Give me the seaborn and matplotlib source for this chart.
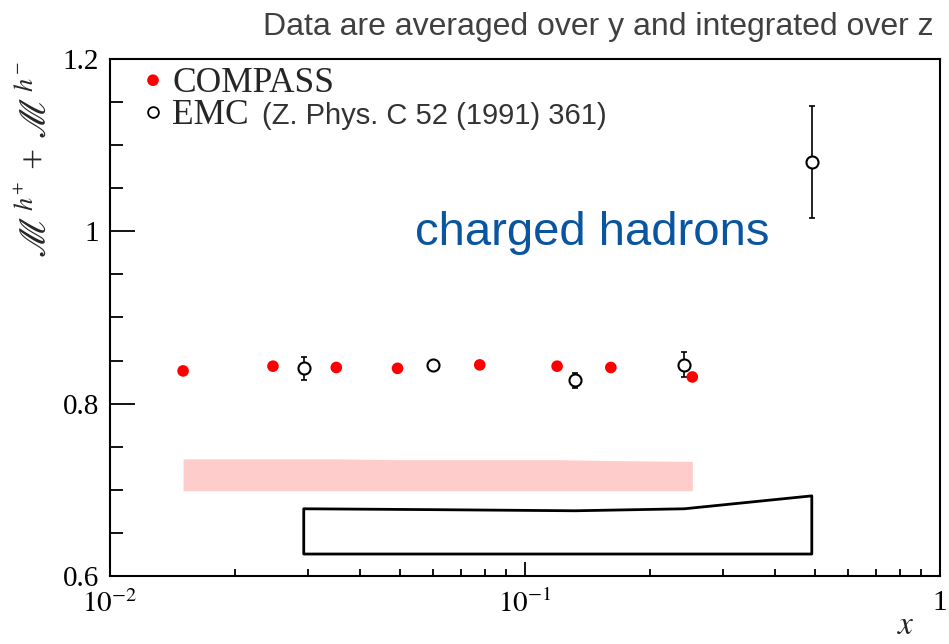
import numpy as np
import pandas as pd
import matplotlib
matplotlib.use("Agg")
import matplotlib.pyplot as plt
import seaborn as sns
from matplotlib.ticker import FixedLocator, FixedFormatter, LogLocator, NullFormatter, MultipleLocator

# COMPASS multiplicity sum h+ + h-
compass_x = [0.0150, 0.0247, 0.0351, 0.0493, 0.0778, 0.1195, 0.161, 0.253]
compass_m = [0.838, 0.8435, 0.842, 0.841, 0.845, 0.8435, 0.842, 0.831]
compass_sys_lo = [0.699, 0.699, 0.699, 0.699, 0.699, 0.699, 0.699, 0.699]
compass_sys_hi = [0.736, 0.736, 0.736, 0.735, 0.735, 0.735, 0.734, 0.733]

# EMC (Z. Phys. C 52 (1991) 361)
emc_x = [0.0293, 0.0600, 0.132, 0.242, 0.491]
emc_m = [0.841, 0.845, 0.827, 0.845, 1.080]
emc_err = [0.0135, 0.005, 0.009, 0.0145, 0.065]
emc_sys_lo = [0.6255, 0.6255, 0.6255, 0.6255, 0.6255]
emc_sys_hi = [0.678, 0.677, 0.6757, 0.678, 0.693]

y_ticks = [0.6, 0.8, 1.0, 1.2]
y_ticklabels = ["0.6", "0.8", "1", "1.2"]
x_ticks = [0.01, 0.1, 1.0]
x_ticklabels = [r"$10^{-2}$", r"$10^{-1}$", "1"]

sns.set_theme(style="ticks")
plt.rcParams["font.family"] = ["Liberation Serif", "DejaVu Serif"]
plt.rcParams["mathtext.fontset"] = "stix"

fig = plt.figure(figsize=(9.49, 6.44), dpi=100)
ax = fig.add_axes([110 / 949, 68 / 644, 830 / 949, 517 / 644])

df_c = pd.DataFrame({"x": compass_x, "M": compass_m})
df_e = pd.DataFrame({"x": emc_x, "M": emc_m})

# systematic bands
ax.fill_between(compass_x, compass_sys_lo, compass_sys_hi, color="#ffcccc", lw=0, zorder=1)
ax.fill_between(emc_x, emc_sys_lo, emc_sys_hi, facecolor="none", edgecolor="black", lw=2, zorder=2)

# statistical errors for EMC
ax.errorbar(emc_x, emc_m, yerr=emc_err, fmt="none", ecolor="black", elinewidth=1.2,
            capsize=2.5, capthick=1.2, zorder=3)

sns.scatterplot(data=df_c, x="x", y="M", ax=ax, color="#ff0000", s=70, edgecolor="none",
                zorder=5, legend=False)
sns.scatterplot(data=df_e, x="x", y="M", ax=ax, facecolor="white", edgecolor="black",
                linewidth=1.5, s=75, zorder=6, legend=False)

ax.set_xscale("log")
ax.set_xlim(0.01, 1.0)
ax.set_ylim(0.6, 1.2)

ax.xaxis.set_major_locator(FixedLocator(x_ticks))
ax.xaxis.set_major_formatter(FixedFormatter(x_ticklabels))
ax.xaxis.set_minor_locator(LogLocator(base=10, subs=np.arange(2, 10)))
ax.xaxis.set_minor_formatter(NullFormatter())
ax.yaxis.set_major_locator(FixedLocator(y_ticks))
ax.yaxis.set_major_formatter(FixedFormatter(y_ticklabels))
ax.yaxis.set_minor_locator(MultipleLocator(0.05))

ax.tick_params(axis="both", which="both", direction="in", colors="black", labelsize=21,
               top=False, right=False, width=1.3)
ax.tick_params(axis="y", which="major", length=18, pad=8)
ax.tick_params(axis="y", which="minor", length=9.5)
ax.tick_params(axis="x", which="major", length=10, pad=10)
ax.tick_params(axis="x", which="minor", length=5)
for sp in ax.spines.values():
    sp.set_linewidth(1.5)
    sp.set_color("black")
ax.set_xlabel("")
ax.set_ylabel("")

# axis titles
fig.text(906 / 949, 10 / 644, r"$x$", fontsize=24, ha="center", va="baseline")
fig.text(36 / 949, 1 - 160 / 644, r"$\mathscr{M}^{\,h^{+}}$ + $\mathscr{M}^{\,h^{-}}$",
         fontsize=27, rotation=90, ha="center", va="center")

# legend
ax.scatter([0.0518], [0.959], transform=ax.transAxes, s=70, color="#ff0000",
           edgecolor="none", clip_on=False, zorder=7)
ax.scatter([0.0518], [0.897], transform=ax.transAxes, s=60, facecolor="white",
           edgecolor="black", linewidth=1.3, clip_on=False, zorder=7)
ax.text(0.0747, 0.936, "COMPASS", transform=ax.transAxes, fontsize=25.5, va="baseline")
ax.text(0.0747, 0.874, "EMC", transform=ax.transAxes, fontsize=25.5, va="baseline")
ax.text(0.183, 0.874, "(Z. Phys. C 52 (1991) 361)", transform=ax.transAxes, fontsize=21,
        va="baseline", family=["Liberation Sans", "DejaVu Sans"], color="#333333")

ax.text(0.3675, 0.640, "charged hadrons", transform=ax.transAxes, fontsize=34,
        va="baseline", family=["Liberation Sans", "DejaVu Sans"], color="#0a55a0")

fig.text(263 / 949, 1 - 35 / 644, "Data are averaged over y and integrated over z",
         fontsize=23, va="baseline", ha="left",
         family=["Liberation Sans", "DejaVu Sans"], color="#404040")

fig.savefig("out.png", dpi=100)
